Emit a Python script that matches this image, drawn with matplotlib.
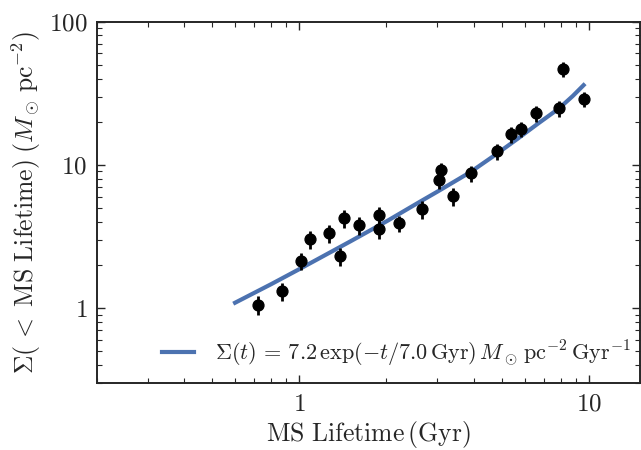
import matplotlib
matplotlib.use("Agg")
import matplotlib.pyplot as plt
from matplotlib.ticker import FuncFormatter, NullFormatter

plt.rcParams['mathtext.fontset'] = 'cm'
plt.rcParams['font.family'] = 'serif'
plt.rcParams['font.serif'] = ['DejaVu Serif']

# Data points (MS lifetime in Gyr, cumulative surface density)
t_data = [0.72, 0.874, 1.01, 1.09, 1.27, 1.385, 1.43, 1.61, 1.89, 1.89, 2.21, 2.66,
          3.04, 3.09, 3.40, 3.92, 4.82, 5.38, 5.83, 6.57, 7.88, 8.14, 9.6]
sigma_data = [1.05, 1.31, 2.13, 3.03, 3.33, 2.30, 4.24, 3.79, 4.45, 3.55, 3.91, 4.9,
              7.9, 9.16, 6.03, 8.72, 12.4, 16.3, 17.7, 22.9, 24.8, 47.0, 29.0]
sigma_err_frac = [0.15, 0.14, 0.14, 0.14, 0.14, 0.14, 0.14, 0.14, 0.14, 0.14, 0.13, 0.14,
                  0.14, 0.13, 0.14, 0.13, 0.13, 0.13, 0.12, 0.13, 0.13, 0.12, 0.12]

# Model curve
t_model = [0.6, 0.8, 1.0, 1.5, 2.0, 2.6, 3.0, 3.9, 4.8, 5.7, 6.7, 7.9, 8.8, 9.6]
sigma_model = [1.09, 1.47, 1.87, 2.92, 4.03, 5.5, 6.5, 8.9, 11.9, 15.3, 19.5, 24.8, 30.2, 36.0]

legend_label = (r'$\Sigma(t)\,=\,7.2\,\exp(-t/7.0\,\mathrm{Gyr})\,M_\odot\,'
                r'\mathrm{pc}^{-2}\,\mathrm{Gyr}^{-1}$')

fig = plt.figure(figsize=(6.41, 4.5), dpi=100)
ax = fig.add_axes([0.1513, 0.1489, 0.8467, 0.8031])

yerr_lo = [s * f for s, f in zip(sigma_data, sigma_err_frac)]
yerr_hi = [s * f for s, f in zip(sigma_data, sigma_err_frac)]
ax.plot(t_model, sigma_model, color='#4C72B0', lw=3.0, label=legend_label, zorder=2)
ax.errorbar(t_data, sigma_data, yerr=[yerr_lo, yerr_hi], fmt='o', color='black',
            ms=7.8, elinewidth=2.0, capsize=0, zorder=3)

ax.set_xscale('log')
ax.set_yscale('log')
ax.set_xlim(0.2, 15)
ax.set_ylim(0.3, 100)

fmt = FuncFormatter(lambda v, p: r'$\mathrm{%g}$' % v)
ax.xaxis.set_major_formatter(fmt)
ax.yaxis.set_major_formatter(fmt)
ax.xaxis.set_minor_formatter(NullFormatter())
ax.yaxis.set_minor_formatter(NullFormatter())

ax.tick_params(which='both', direction='in', top=True, right=True, colors='#262626',
               labelsize=18, labelcolor='#262626')
ax.tick_params(which='major', length=6, width=1.0, pad=7)
ax.tick_params(which='minor', length=3.5, width=0.8)
for sp in ax.spines.values():
    sp.set_linewidth(1.4)
    sp.set_color('#262626')

ax.set_xlabel(r'$\mathrm{MS\ Lifetime\,(Gyr)}$', fontsize=18.5, color='#262626',
              labelpad=2.5)
ax.set_ylabel(r'$\Sigma(\,<\;\mathrm{MS\ Lifetime})\;(M_\odot\,\mathrm{pc}^{-2})$',
              fontsize=18.5, color='#262626')

leg = ax.legend(loc='lower right', bbox_to_anchor=(1.0, 0.015), frameon=False,
                fontsize=16, handlelength=1.45, handletextpad=0.95, borderaxespad=0.0)
for txt in leg.get_texts():
    txt.set_color('#262626')

fig.savefig('out.png', dpi=100)
